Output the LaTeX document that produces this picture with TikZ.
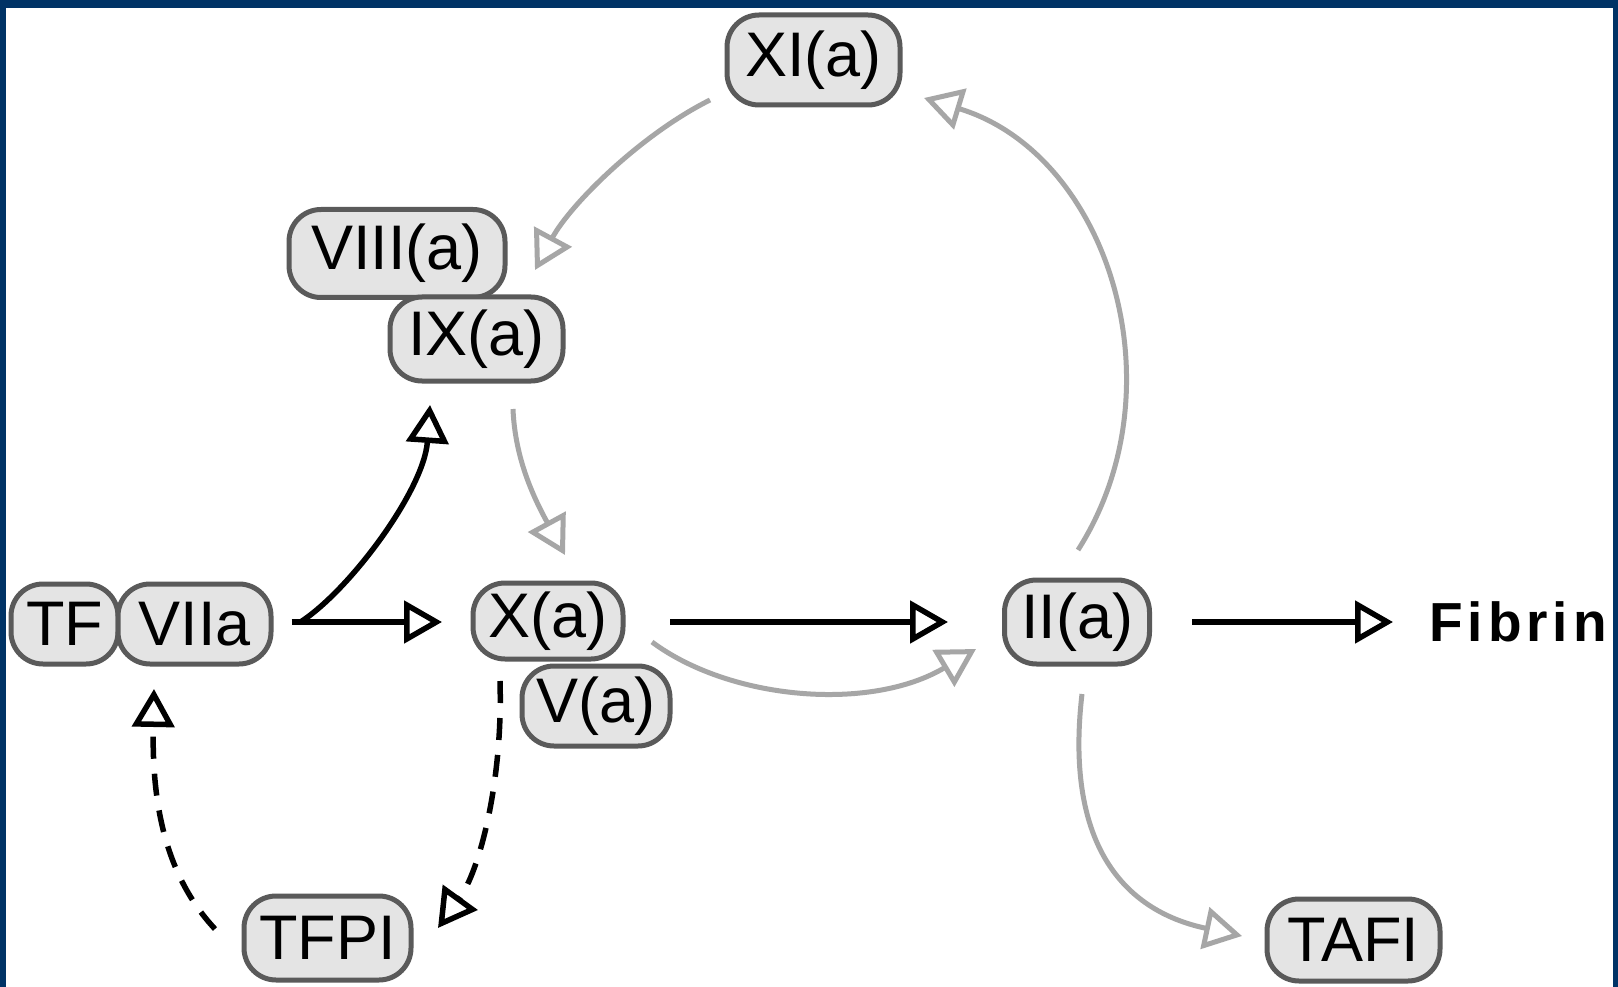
\documentclass[tikz,border=0pt]{standalone}
\usepackage{fontspec}
\setmainfont{Liberation Sans}
\newfontfamily\fibfont[LetterSpace=9]{Liberation Sans}
\usetikzlibrary{arrows.meta}
\definecolor{frameblue}{RGB}{0,51,102}
\definecolor{boxline}{RGB}{90,90,90}
\definecolor{boxfill}{RGB}{228,228,228}
\definecolor{arrgray}{RGB}{166,166,166}
\begin{document}
\begin{tikzpicture}[x=1pt,y=-1pt,
  factor/.style={draw=boxline, fill=boxfill, line width=5pt, rounded corners=32pt,
    inner xsep=10pt, inner ysep=0pt, font=\fontsize{63}{70}\selectfont, text=black},
  blackarrow/.style={line width=5.5pt, draw=black, -{Triangle[open,length=38pt,width=42pt]}},
  grayarrow/.style={line width=5pt, draw=arrgray, -{Triangle[open,length=38pt,width=42pt]}},
  dashedarrow/.style={blackarrow, dash pattern=on 22pt off 15pt}
]
\useasboundingbox (0,0) rectangle (1618,987);
\fill[white] (0,0) rectangle (1618,987);
\fill[frameblue] (0,0) rectangle (1618,8);
\fill[frameblue] (0,0) rectangle (6,987);
\fill[frameblue] (1613,0) rectangle (1618,987);

\node[factor, minimum width=173pt, minimum height=90pt] (XIa) at (813.5,60) {XI(a)};
\node[factor, minimum width=216pt, minimum height=88pt] (VIIIa) at (397,253.5) {VIII(a)};
\node[factor, minimum width=173pt, minimum height=84pt] (IXa) at (476.5,339) {IX(a)};
\node[factor, minimum width=107pt, minimum height=80pt] (TF) at (64.5,624) {TF};
\node[factor, minimum width=153pt, minimum height=80pt] (VIIa) at (194.5,624) {VIIa};
\node[factor, minimum width=150pt, minimum height=76pt] (Xa) at (548,621) {X(a)};
\node[factor, minimum width=148pt, minimum height=80pt] (Va) at (596,706) {V(a)};
\node[factor, minimum width=145pt, minimum height=84pt] (IIa) at (1077,622) {II(a)};
\node[factor, minimum width=167pt, minimum height=84pt] (TFPI) at (327.5,938) {TFPI};
\node[factor, minimum width=173pt, minimum height=82pt] (TAFI) at (1353.5,940) {TAFI};
\node[font=\fibfont\bfseries\fontsize{55}{60}\selectfont, anchor=west, inner sep=0pt] (Fibrin) at (1429,622) {Fibrin};

\draw[blackarrow] ([shift={(97,-2)}]VIIa.center) -- ([shift={(-106,1)}]Xa.center);
\draw[blackarrow] ([shift={(106,-2)}]VIIa.center) .. controls (350,590) and (424,490) .. ([shift={(-46.5,66)}]IXa.center);
\draw[grayarrow] ([shift={(36.5,70)}]IXa.center) .. controls (515,460) and (535,500) .. ([shift={(17,-66)}]Xa.center);
\draw[grayarrow] ([shift={(-103.5,40)}]XIa.center) .. controls (640,135) and (570,205) .. ([shift={(138,16.5)}]VIIIa.center);
\draw[grayarrow] ([shift={(1,-72)}]IIa.center) .. controls (1182,387) and (1108,154) .. ([shift={(110.5,38)}]XIa.center);
\draw[blackarrow] ([shift={(122,1)}]Xa.center) -- ([shift={(-129,0)}]IIa.center);
\draw[grayarrow] ([shift={(104,21)}]Xa.center) .. controls (730,700) and (870,712) .. ([shift={(-101,27)}]IIa.center);
\draw[blackarrow] ([shift={(115,0)}]IIa.center) -- ([xshift=-36pt]Fibrin.west);
\draw[grayarrow] ([shift={(5,72)}]IIa.center) .. controls (1065,840) and (1120,910) .. ([shift={(-111.5,-4)}]TAFI.center);
\draw[dashedarrow] ([shift={(-48,60)}]Xa.center) .. controls (503,780) and (480,870) .. ([shift={(110.5,-10)}]TFPI.center);
\draw[dashedarrow] ([shift={(-112.5,-9)}]TFPI.center) .. controls (160,870) and (152,790) .. ([shift={(-40.5,65)}]VIIa.center);
\end{tikzpicture}
\end{document}
